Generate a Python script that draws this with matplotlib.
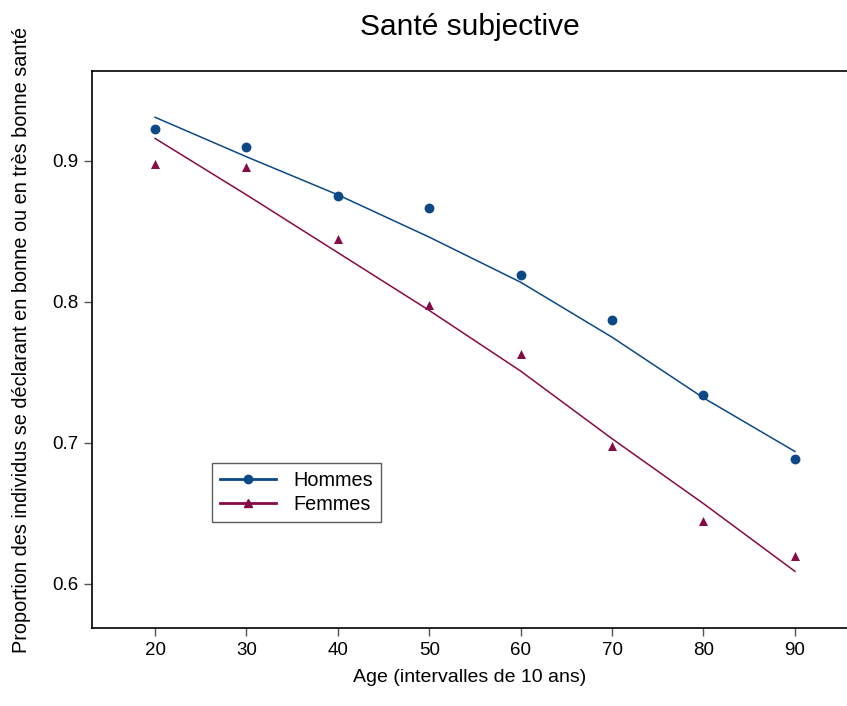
import matplotlib
matplotlib.use("Agg")
import matplotlib.pyplot as plt
from matplotlib.lines import Line2D

plt.rcParams['font.family'] = ['Liberation Sans', 'DejaVu Sans']

# age groups
ages = [20, 30, 40, 50, 60, 70, 80, 90]

# observed proportions
hommes = [0.923, 0.910, 0.875, 0.867, 0.819, 0.787, 0.734, 0.689]
femmes = [0.898, 0.896, 0.845, 0.798, 0.763, 0.698, 0.645, 0.620]

# fitted curves
hommes_fit = [0.931, 0.903, 0.876, 0.846, 0.814, 0.775, 0.732, 0.694]
femmes_fit = [0.916, 0.876, 0.835, 0.794, 0.751, 0.703, 0.657, 0.609]

xticks = [20, 30, 40, 50, 60, 70, 80, 90]
yticks = [0.6, 0.7, 0.8, 0.9]

c_h = '#0c4885'
c_f = '#860a45'

fig = plt.figure(figsize=(8.47, 7.06), dpi=100)
ax = fig.add_axes([0.1086, 0.1105, 0.8914, 0.7889])

ax.plot(ages, hommes_fit, color=c_h, lw=1.1)
ax.plot(ages, femmes_fit, color=c_f, lw=1.1)
ax.scatter(ages, hommes, marker='o', s=50, color=c_h, zorder=3, linewidths=0)
ax.scatter(ages, femmes, marker='^', s=42, color=c_f, zorder=3, linewidths=0)

ax.set_xlim(13.1, 95.7)
ax.set_ylim(0.5688, 0.9638)
ax.set_xticks(xticks)
ax.set_yticks(yticks)
ax.set_yticklabels([f"{v:.1f}" for v in yticks])
ax.tick_params(direction='out', length=6, width=1, color='#555555',
               labelsize=13.5, pad=4)

for s in ['left', 'bottom', 'top']:
    ax.spines[s].set_linewidth(1.2)
    ax.spines[s].set_color('black')
ax.spines['right'].set_visible(False)

ax.set_title("Santé subjective", fontsize=21.5, pad=26)
ax.set_xlabel("Age (intervalles de 10 ans)", fontsize=14, labelpad=7)
ax.set_ylabel("Proportion des individus se déclarant en bonne ou en très bonne santé",
              fontsize=14.3)
ax.yaxis.set_label_coords(-0.081, 0.518)

handles = [
    Line2D([], [], color=c_h, lw=2, marker='o', markersize=6),
    Line2D([], [], color=c_f, lw=2, marker='^', markersize=6),
]
leg = ax.legend(handles, ["Hommes", "Femmes"], loc='lower left',
                bbox_to_anchor=(0.159, 0.19), borderaxespad=0,
                fontsize=14.3, frameon=True, fancybox=False,
                handlelength=2.8, handletextpad=0.9, labelspacing=0.25,
                borderpad=0.4)
leg.get_frame().set_edgecolor('#333333')
leg.get_frame().set_linewidth(1)

fig.savefig("out.png", dpi=100)
